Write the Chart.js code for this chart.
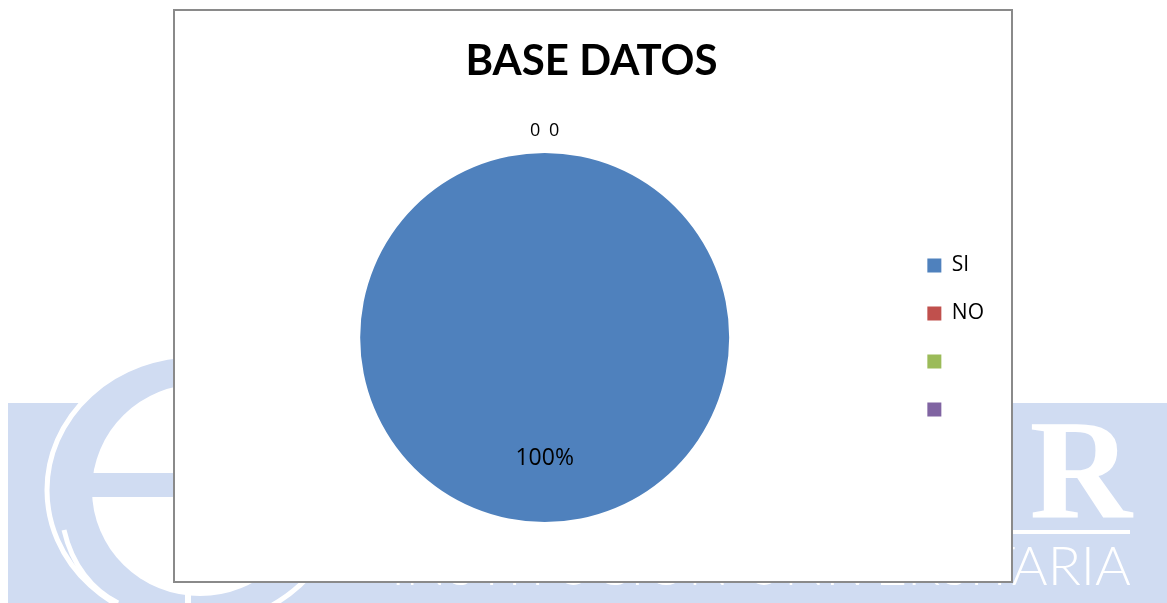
<!DOCTYPE html>
<html>
<head>
<meta charset="utf-8">
<title>BASE DATOS</title>
<script src="https://cdn.jsdelivr.net/npm/chart.js@4.4.1/dist/chart.umd.min.js"></script>
<style>
  html, body { margin: 0; padding: 0; background: #fff; }
  body { width: 1167px; height: 603px; position: relative; overflow: hidden; }
  #fondo { position: absolute; left: 0; top: 0; }
  #marco {
    position: absolute; left: 173px; top: 9px;
    width: 836px; height: 570px;
    border: 2px solid #8a8a8a; background: #fff;
  }
  #grafico { display: block; }
</style>
</head>
<body>

<!-- logo de la institución al fondo -->
<svg id="fondo" width="1167" height="603">
  <rect x="8" y="403" width="1159" height="200" fill="#d0dcf2"/>
  <ellipse cx="195" cy="490" rx="148" ry="135" fill="#d0dcf2" stroke="#fff" stroke-width="5"/>
  <ellipse cx="200" cy="490" rx="108" ry="106" fill="#fff"/>
  <rect x="90" y="473" width="260" height="24" fill="#d0dcf2"/>
  <path d="M 64 530 C 72 565, 92 590, 118 603" fill="none" stroke="#fff" stroke-width="5"/>
  <path d="M 188 583 L 188 603" fill="none" stroke="#fff" stroke-width="6"/>
  <text x="1132" y="517" text-anchor="end" font-family="'Liberation Serif', 'DejaVu Serif', serif"
        font-weight="bold" font-size="142" fill="#fff">R</text>
  <rect x="880" y="530" width="250" height="4" fill="#fff"/>
  <text x="391" y="585" textLength="740" lengthAdjust="spacingAndGlyphs"
        font-family="Lato, 'Open Sans', sans-serif" font-weight="300" font-size="53" fill="#fff">INSTITUCION UNIVERSITARIA</text>
</svg>

<div id="marco"><canvas id="grafico" width="836" height="570"></canvas></div>

<script>
const categorias = ['SI', 'NO', '', ''];
const valores = [100, 0, 0, null];
const colores = ['#4f81bd', '#c0504d', '#9bbb59', '#8064a2'];

// etiquetas de cada porción: porcentaje dentro, los ceros arriba del círculo
const etiquetasPorcion = {
  id: 'etiquetasPorcion',
  afterDatasetsDraw(chart) {
    const ctx = chart.ctx;
    const meta = chart.getDatasetMeta(0);
    const total = valores.reduce((a, b) => a + (b || 0), 0);
    const ceros = valores.filter(v => v === 0).length;
    let k = 0;
    ctx.save();
    ctx.textAlign = 'center';
    ctx.textBaseline = 'middle';
    ctx.fillStyle = '#000';
    meta.data.forEach((arc, i) => {
      const v = valores[i];
      if (v === null || v === undefined) return;
      const p = arc.getProps(['x', 'y', 'startAngle', 'endAngle', 'outerRadius'], true);
      const medio = (p.startAngle + p.endAngle) / 2;
      if (v > 0) {
        const r = p.outerRadius * 0.655;
        ctx.font = '23px "Open Sans"';
        ctx.fillText(Math.round(v / total * 100) + '%', p.x + Math.cos(medio) * r, p.y + Math.sin(medio) * r);
      } else {
        const r = p.outerRadius + 22;
        const dx = (k - (ceros - 1) / 2) * 19;
        k++;
        ctx.font = '18px "Open Sans"';
        ctx.fillText('0', p.x + Math.cos(medio) * r + dx, p.y + Math.sin(medio) * r);
      }
    });
    ctx.restore();
  }
};

const data = {
  labels: categorias,
  datasets: [{
    data: valores,
    backgroundColor: colores,
    borderWidth: 0,
    hoverOffset: 0
  }]
};

const config = {
  type: 'pie',
  data: data,
  options: {
    responsive: false,
    devicePixelRatio: 1,
    animation: false,
    events: [],
    layout: {
      padding: { left: 14, right: 17, top: 0, bottom: 59 }
    },
    plugins: {
      title: {
        display: true,
        text: 'BASE DATOS',
        color: '#000',
        font: { family: "'Liberation Sans Narrow', Lato, sans-serif", size: 42, weight: 'bold' },
        padding: { top: 25, bottom: 66.6 }
      },
      legend: {
        position: 'right',
        fullSize: false,
        labels: {
          boxWidth: 14,
          boxHeight: 14,
          padding: 27,
          color: '#000',
          font: { family: "'Open Sans'", size: 21 }
        }
      },
      tooltip: { enabled: false }
    }
  },
  plugins: [etiquetasPorcion]
};

const myChart = new Chart(document.getElementById('grafico'), config);
</script>
</body>
</html>
